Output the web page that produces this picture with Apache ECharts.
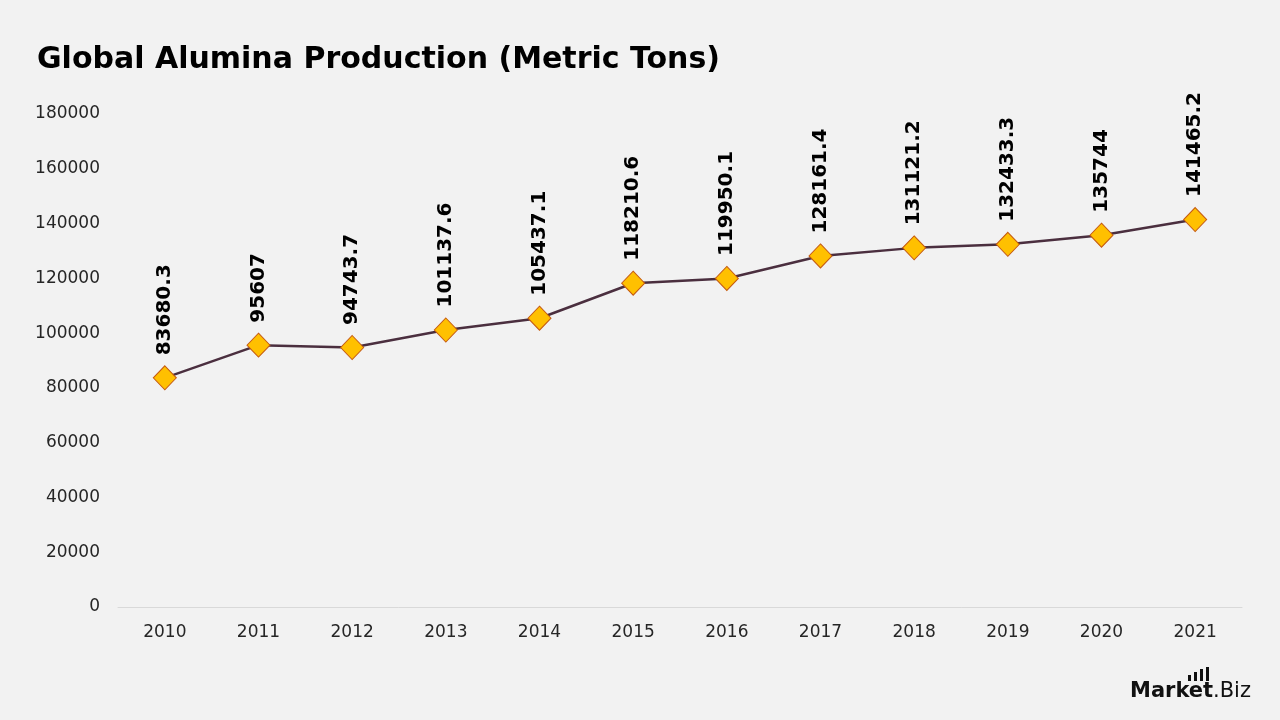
<!DOCTYPE html>
<html>
<head>
<meta charset="utf-8">
<script src="https://cdn.jsdelivr.net/npm/echarts@6/dist/echarts.min.js"></script>
<style>
html,body{margin:0;padding:0;background:#f2f2f2;}
#chart{width:1280px;height:720px;}
</style>
</head>
<body>
<div id="chart"></div>
<script>
const titleText = 'Global Alumina Production (Metric Tons)';
const years = ['2010','2011','2012','2013','2014','2015','2016','2017','2018','2019','2020','2021'];
const production = [83680.3, 95607, 94743.7, 101137.6, 105437.1, 118210.6, 119950.1, 128161.4, 131121.2, 132433.3, 135744, 141465.2];
const yMin = 0, yMax = 180000, yStep = 20000;

const FONT = '"DejaVu Sans", "Noto Sans", sans-serif';
const chart = echarts.init(document.getElementById('chart'));
chart.setOption({
  backgroundColor: '#f2f2f2',
  animation: false,
  title: {
    text: titleText,
    left: 32, top: 40,
    textStyle: {fontFamily: FONT, fontWeight: 'bold', fontSize: 30, color: '#000'}
  },
  grid: {left: 118, right: 38, top: 114, bottom: 113, containLabel: false},
  xAxis: {
    type: 'category',
    data: years,
    boundaryGap: true,
    axisLine: {show: true, lineStyle: {color: '#d9d9d9', width: 1}},
    axisTick: {show: false},
    axisLabel: {fontFamily: FONT, fontSize: 17, color: '#262626', margin: 17}
  },
  yAxis: {
    type: 'value',
    min: yMin, max: yMax, interval: yStep,
    axisLine: {show: false},
    axisTick: {show: false},
    splitLine: {show: false},
    axisLabel: {fontFamily: FONT, fontSize: 17, color: '#262626', margin: 18, formatter: v => String(v)}
  },
  series: [{
    type: 'line',
    data: production,
    symbol: 'diamond',
    symbolSize: [23, 24],
    lineStyle: {color: '#4b2f3f', width: 2.5},
    itemStyle: {color: '#FFC000', borderColor: '#C55A11', borderWidth: 1},
    label: {
      show: true,
      position: 'top',
      rotate: 90,
      distance: 10,
      align: 'left',
      verticalAlign: 'middle',
      fontFamily: FONT,
      fontWeight: 'bold',
      fontSize: 20,
      color: '#000'
    }
  }],
  graphic: [
    {type: 'text', left: 1130, top: 681, style: {text: 'Market', fontFamily: FONT, fontWeight: 'bold', fontSize: 21, fill: '#111'}},
    {type: 'text', left: 1213, top: 681, style: {text: '.Biz', fontFamily: FONT, fontWeight: 'normal', fontSize: 21, fill: '#111'}},
    {type: 'rect', shape: {x: 1188, y: 675, width: 3, height: 6}, style: {fill: '#111'}},
    {type: 'rect', shape: {x: 1194, y: 672, width: 3, height: 9}, style: {fill: '#111'}},
    {type: 'rect', shape: {x: 1200, y: 669, width: 3, height: 12}, style: {fill: '#111'}},
    {type: 'rect', shape: {x: 1206, y: 667, width: 3, height: 14}, style: {fill: '#111'}}
  ]
});
</script>
</body>
</html>
